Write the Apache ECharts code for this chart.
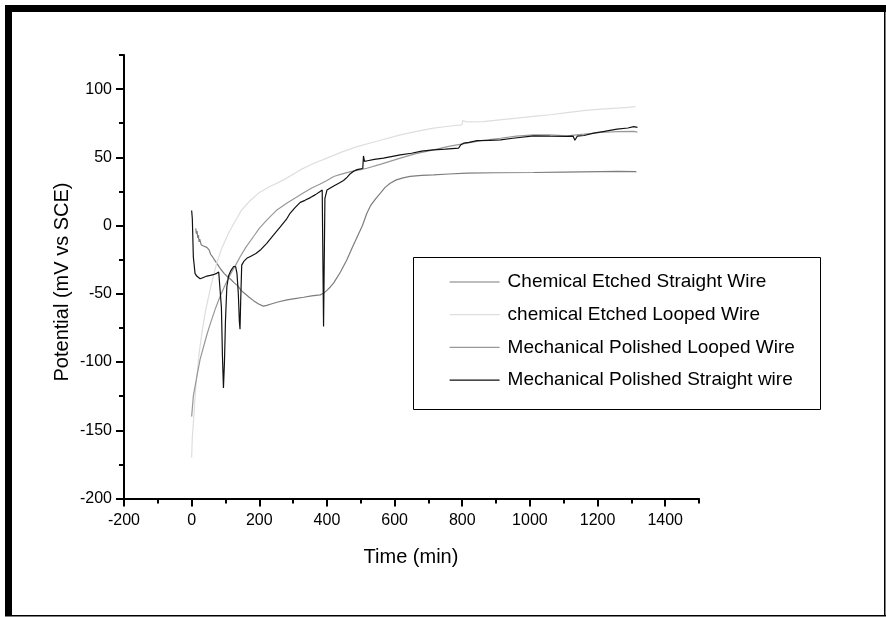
<!DOCTYPE html>
<html>
<head>
<meta charset="utf-8">
<script src="https://cdn.jsdelivr.net/npm/echarts@6/dist/echarts.min.js"></script>
<style>
  html, body { margin: 0; padding: 0; background: #fff; }
  #chart { width: 886px; height: 617px; }
</style>
</head>
<body>
<div id="chart"></div>
<script>
// Open-circuit potential vs. time for four wire preparations
const seriesNames = [
  'Chemical Etched Straight Wire',
  'chemical Etched Looped Wire',
  'Mechanical Polished Looped Wire',
  'Mechanical Polished Straight wire'
];

// [time (min), potential (mV vs SCE)]
const chemEtchedStraight = [
  [12,-2],[14,-6],[16,-4],[18,-9],[20,-7],[22,-12],[24,-10],[28,-14],[35,-15],[45,-16],
  [52,-18],[56,-21],[62,-23],[70,-26],[78,-29],[86,-32],[96,-35],[106,-37.5],[116,-39.5],
  [126,-42],[136,-44],[146,-47.5],[158,-50],[170,-52.5],[183,-55],[198,-57.5],[212,-59],
  [222,-58.5],[235,-57.5],[255,-56],[282,-54.5],[305,-53.5],[331,-52.5],[355,-51.5],
  [380,-50.8],[390,-49.6],[400,-47.5],[410,-45],[420,-42],[440,-34],[459,-25],[475,-16],
  [490,-8],[505,0],[518,9],[530,15],[545,20],[558,23.8],[572,28],[587,31],[605,33.5],
  [625,35],[646,36],[680,36.8],[715,37.2],[760,37.8],[814,38.4],[900,38.7],[1011,38.9],
  [1100,39.2],[1209,39.6],[1260,39.7],[1315,39.5]
];

const chemEtchedLooped = [
  [0,-170],[2,-155],[5,-145],[10,-126],[15,-111],[22,-94],[30,-79],[40,-64],[50,-52],
  [62,-39],[74,-27.6],[90,-16],[109,-5.6],[128,3],[148,11.5],[172,18],[198,23.8],
  [230,28.5],[272,33.5],[321,40.8],[360,45.5],[400,49.4],[445,54],[489,57.9],[550,62],
  [617,66.5],[665,69],[715,71.4],[760,72.8],[799,73.8],[802,77],[806,77.5],[812,76],
  [863,76.2],[910,77.5],[962,78.7],[1010,80],[1061,81.2],[1110,82.8],[1159,84.3],
  [1210,85.3],[1258,86],[1290,86.6],[1312,87.2]
];

const mechPolishedLooped = [
  [0,-140],[5,-125],[15,-111],[25,-98],[35,-89],[45,-80],[55,-72],[70,-61],[84,-52],
  [100,-43],[114,-36],[130,-29],[143,-23],[160,-16],[183,-8],[200,-2],[222,4],[250,11],
  [282,16.5],[305,20],[331,24],[355,27.5],[380,30.5],[400,33],[420,36],[440,37.5],
  [470,39.5],[500,41],[518,42],[560,45],[617,49.4],[660,52.5],[715,55.5],[760,58],
  [814,60.4],[860,62.5],[913,64],[960,65.5],[1011,66.5],[1060,66.5],[1110,65.8],
  [1160,67],[1209,68.2],[1260,68.8],[1307,69],[1318,68.5]
];

const mechPolishedStraight = [
  [0,11],[2,5],[5,-23],[10,-35],[15,-37],[25,-39],[35,-38],[45,-37],[55,-36.5],[64,-36],
  [74,-35],[80,-34],[84,-35],[88,-60],[91,-95],[94,-119],[97,-100],[100,-70],[104,-45],
  [109,-37],[116,-33],[124,-30],[130,-30],[134,-35],[138,-50],[141,-70],[143,-76],
  [145,-55],[148,-29],[155,-26],[163,-24],[175,-22.5],[190,-20.5],[205,-17.5],[222,-13],
  [240,-7.5],[262,-1],[280,4.5],[291,9],[305,13],[321,17],[335,18.5],[351,20.5],
  [365,22.5],[380,25],[386,26],[390,-74],[394,20],[400,26],[420,29],[435,31],[449,33],
  [460,35.5],[469,38],[480,40],[489,41],[500,41.5],[506,42],[508,51],[511,47],[520,47.5],
  [540,48.5],[567,49.4],[590,50.5],[617,51.8],[650,53],[680,54.5],[715,55.5],[750,56],
  [789,56.7],[795,59],[804,60.4],[820,61],[844,62.3],[880,62.5],[913,62.8],[950,64],
  [1011,65.8],[1060,65.5],[1110,65.3],[1128,65.5],[1133,62.5],[1140,65.5],[1160,66],
  [1189,67.7],[1220,69],[1258,70.7],[1290,71.5],[1307,72.5],[1318,72]
];

const seriesData = [chemEtchedStraight, chemEtchedLooped, mechPolishedLooped, mechPolishedStraight];
const seriesColors = ['#7d7d7d', '#dedede', '#989898', '#111111'];

const xMajorTicks = [-200, 0, 200, 400, 600, 800, 1000, 1200, 1400];
const yMajorTicks = [-200, -150, -100, -50, 0, 50, 100];

const labelFont = "'Liberation Sans', Arial, sans-serif";
const sansFont = "'Liberation Sans', Arial, sans-serif";

const axisLineStyle = { color: '#000', width: 2 };
const plainNumber = (v) => String(v);

const chart = echarts.init(document.getElementById('chart'), null, { renderer: 'canvas' });

chart.setOption({
  backgroundColor: '#fff',
  animation: false,
  grid: { left: 124, top: 55, width: 575, height: 443.5, containLabel: false },
  xAxis: [
    {
      type: 'value', min: -200, max: 1500, interval: 200, position: 'bottom',
      axisLine: { show: true, onZero: false, lineStyle: axisLineStyle },
      axisTick: { show: true, length: 8, lineStyle: axisLineStyle, customValues: xMajorTicks },
      axisLabel: { customValues: xMajorTicks, formatter: plainNumber, margin: 14, fontSize: 16,
                   fontFamily: labelFont, color: '#000' },
      splitLine: { show: false }
    },
    {
      type: 'value', min: -200, max: 1500, interval: 100, position: 'bottom',
      axisLine: { show: false, onZero: false },
      axisTick: { show: true, length: 5, lineStyle: axisLineStyle },
      axisLabel: { show: false },
      splitLine: { show: false }
    }
  ],
  yAxis: [
    {
      type: 'value', min: -200, max: 125, interval: 50, position: 'left',
      axisLine: { show: true, onZero: false, lineStyle: axisLineStyle },
      axisTick: { show: true, length: 8, lineStyle: axisLineStyle, customValues: yMajorTicks },
      axisLabel: { customValues: yMajorTicks, formatter: plainNumber, margin: 12, fontSize: 16,
                   fontFamily: labelFont, color: '#000' },
      splitLine: { show: false }
    },
    {
      type: 'value', min: -200, max: 125, interval: 25, position: 'left',
      axisLine: { show: false, onZero: false },
      axisTick: { show: true, length: 5, lineStyle: axisLineStyle },
      axisLabel: { show: false },
      splitLine: { show: false }
    }
  ],
  legend: {
    data: seriesNames,
    orient: 'vertical',
    left: 449,
    top: 272,
    padding: 0,
    itemWidth: 50,
    itemHeight: 20,
    itemGap: 12.7,
    itemStyle: { opacity: 0, borderWidth: 0 },
    lineStyle: { width: 1.2 },
    textStyle: { fontSize: 19, fontFamily: sansFont, color: '#000', lineHeight: 20, padding: [0, 0, 0, 3] }
  },
  graphic: [
    // outer frame: heavy left/top edges, hairline right/bottom edges
    { type: 'rect', shape: { x: 5, y: 5, width: 7, height: 611 }, style: { fill: '#000' }, silent: true },
    { type: 'rect', shape: { x: 5, y: 5, width: 881, height: 7 }, style: { fill: '#000' }, silent: true },
    { type: 'rect', shape: { x: 884, y: 5, width: 1.5, height: 611 }, style: { fill: '#000' }, silent: true },
    { type: 'rect', shape: { x: 5, y: 615, width: 881, height: 1.5 }, style: { fill: '#000' }, silent: true },
    // legend box
    { type: 'rect', shape: { x: 413.5, y: 257.5, width: 407, height: 152 },
      style: { fill: 'none', stroke: '#000', lineWidth: 1 }, silent: true, z: 0 },
    // axis titles
    { type: 'text', x: 62, y: 282, rotation: Math.PI / 2,
      style: { text: 'Potential (mV vs SCE)', fontSize: 20, fontFamily: sansFont, fill: '#000',
               align: 'center', verticalAlign: 'middle' }, silent: true },
    { type: 'text', x: 411, y: 557,
      style: { text: 'Time (min)', fontSize: 20, fontFamily: sansFont, fill: '#000',
               align: 'center', verticalAlign: 'middle' }, silent: true }
  ],
  series: seriesNames.map((name, i) => ({
    name: name,
    type: 'line',
    xAxisIndex: 0,
    yAxisIndex: 0,
    data: seriesData[i],
    symbol: 'none',
    showSymbol: false,
    smooth: false,
    color: seriesColors[i],
    lineStyle: { color: seriesColors[i], width: 1.2 },
    z: 2 + i
  }))
});
</script>
</body>
</html>
